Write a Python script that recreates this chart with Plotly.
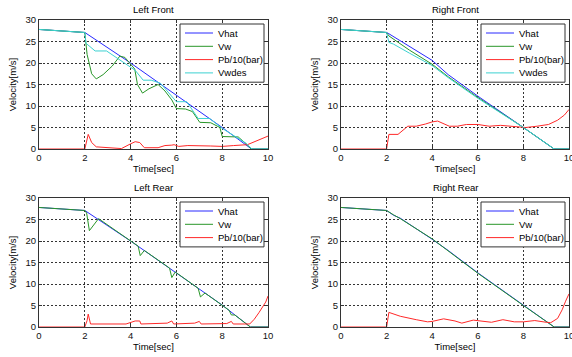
import plotly.graph_objects as go

# ---------------- data ----------------
titles = ["Left Front", "Right Front", "Left Rear", "Right Rear"]
x_ticks = [0, 2, 4, 6, 8, 10]
y_ticks = [0, 5, 10, 15, 20, 25, 30]

# Left Front
lf_vhat_t = [0, 2, 4, 6, 8, 9.28, 10]
lf_vhat_v = [27.8, 27.1, 20.0, 12.6, 5.0, 0, 0]
lf_vw_t = [0, 2, 2.1, 2.3, 2.5, 2.8, 3.2, 3.53, 3.75, 4.0, 4.18, 4.3, 4.52, 4.8, 5.2, 5.5, 5.8, 6.0, 6.4, 6.7, 7.02, 7.5, 7.9, 8.0, 8.5, 8.7, 9.13, 9.27, 10]
lf_vw_v = [27.8, 27.1, 22.0, 17.5, 16.3, 17.3, 19.3, 21.6, 21.3, 19.7, 18.6, 15.0, 13.0, 14.0, 15.0, 13.5, 11.4, 9.4, 9.3, 8.7, 6.2, 6.1, 5.0, 2.9, 2.9, 2.8, 0.8, 0, 0]
lf_pb_t = [0, 2.0, 2.15, 2.3, 2.5, 3.0, 3.3, 3.6, 4.0, 4.2, 4.4, 4.6, 5.2, 5.5, 5.8, 5.9, 6.1, 6.5, 7.5, 8.0, 8.5, 9.1, 10]
lf_pb_v = [0, 0, 3.4, 1.5, 0.5, 0.3, 0.05, 0.1, 1.2, 1.7, 1.5, 0.3, 0.3, 0.8, 0.9, 1.0, 0.6, 0.8, 0.7, 0.6, 0.8, 1.0, 3.0]
lf_vwdes_t = [0, 2, 2.05, 2.45, 2.95, 4.0, 4.2, 4.55, 4.9, 5.3, 5.93, 6.0, 6.45, 6.95, 7.45, 8.0, 9.05, 9.3, 10]
lf_vwdes_v = [27.8, 27.1, 24.6, 22.8, 22.8, 19.1, 18.3, 16.0, 16.0, 15.3, 11.4, 11.0, 11.0, 7.1, 7.1, 4.8, 1.3, 0, 0]

# Right Front
rf_vhat_t = [0, 2, 2.1, 4, 4.7, 6, 8, 9.35, 10]
rf_vhat_v = [27.8, 27.1, 26.8, 20.6, 17.3, 12.3, 5.0, 0, 0]
rf_vw_t = [0, 2, 2.1, 3, 4, 4.7, 6, 7, 8, 9.35, 10]
rf_vw_v = [27.8, 27.1, 26.3, 23.0, 19.7, 16.8, 12.0, 8.5, 5.0, 0, 0]
rf_pb_t = [0, 2.0, 2.1, 2.5, 2.93, 3.3, 3.7, 4.0, 4.24, 4.75, 5.1, 5.5, 6.0, 6.5, 7.0, 7.5, 8.1, 8.6, 9.1, 9.5, 9.8, 10]
rf_pb_v = [0, 0, 3.4, 3.4, 5.3, 5.3, 5.8, 6.3, 6.5, 5.3, 5.3, 5.7, 5.7, 5.3, 5.5, 5.2, 5.0, 5.3, 5.7, 6.7, 7.9, 9.2]
rf_vwdes_t = [0, 2, 2.1, 2.3, 3, 4, 4.7, 6, 7, 8, 9.35, 10]
rf_vwdes_v = [27.8, 27.1, 24.8, 24.4, 22.3, 19.4, 16.6, 11.8, 8.4, 5.0, 0, 0]

# Left Rear
lr_vhat_t = [0, 2, 4, 6, 8, 9.23, 10]
lr_vhat_v = [27.8, 27.1, 20.0, 12.6, 5.1, 0, 0]
lr_vw_t = [0, 2, 2.08, 2.2, 2.6, 4.33, 4.42, 4.6, 5.7, 5.8, 5.95, 6.95, 7.05, 7.25, 8.3, 8.4, 8.55, 9.23, 10]
lr_vw_v = [27.8, 27.1, 26.5, 22.4, 25.2, 18.8, 16.6, 17.8, 13.7, 11.5, 12.8, 9.0, 7.0, 7.9, 3.9, 2.8, 2.8, 0, 0]
lr_pb_t = [0, 2.0, 2.1, 2.15, 2.25, 3.8, 4.2, 4.4, 4.45, 5.6, 5.8, 5.88, 6.8, 7.0, 7.08, 8.2, 8.4, 8.48, 9.2, 9.4, 9.6, 9.8, 9.9, 10]
lr_pb_v = [0, 0, 1.5, 3.0, 0.7, 0.7, 1.4, 1.4, 0.7, 0.9, 1.4, 0.7, 0.9, 1.3, 0.7, 0.8, 1.3, 0.7, 0.7, 1.8, 3.3, 5.0, 5.8, 7.2]

# Right Rear
rr_vhat_t = [0, 2, 2.3, 2.6, 4, 4.7, 6, 8, 9.35, 10]
rr_vhat_v = [27.8, 27.1, 26.0, 25.3, 20.4, 17.8, 12.6, 5.0, 0, 0]
rr_vw_t = [0, 2, 2.3, 2.6, 4, 4.7, 6, 8, 9.35, 10]
rr_vw_v = [27.8, 27.1, 26.1, 25.2, 20.5, 17.7, 12.5, 5.0, 0, 0]
rr_pb_t = [0, 2.0, 2.1, 2.6, 3.3, 3.8, 4.0, 4.5, 5.0, 5.3, 5.8, 6.3, 6.6, 7.1, 7.6, 8.0, 8.5, 9.0, 9.2, 9.5, 9.7, 9.85, 10]
rr_pb_v = [0, 0, 3.4, 2.5, 1.7, 1.2, 1.3, 1.9, 1.4, 0.9, 1.6, 1.2, 1.1, 1.7, 1.2, 1.2, 1.5, 1.1, 1.0, 2.0, 4.0, 6.0, 7.7]

# ---------------- styling ----------------
FONT = "Liberation Sans, Arial, sans-serif"
C_VHAT = "rgb(40,40,255)"
C_VW = "rgb(40,150,40)"
C_PB = "rgb(255,40,40)"
C_VWDES = "rgb(60,210,210)"
AXC = "#333333"
FS = 9.5

W, H = 572, 357
# plot areas in pixels (left, right, top, bottom)
areas = [(39, 268, 20, 149), (341, 569, 20, 149), (39, 268, 198, 327), (341, 569, 198, 327)]

panels = [
    [("Vhat", lf_vhat_t, lf_vhat_v, C_VHAT), ("Vw", lf_vw_t, lf_vw_v, C_VW),
     ("Pb/10(bar)", lf_pb_t, lf_pb_v, C_PB), ("Vwdes", lf_vwdes_t, lf_vwdes_v, C_VWDES)],
    [("Vhat", rf_vhat_t, rf_vhat_v, C_VHAT), ("Vw", rf_vw_t, rf_vw_v, C_VW),
     ("Pb/10(bar)", rf_pb_t, rf_pb_v, C_PB), ("Vwdes", rf_vwdes_t, rf_vwdes_v, C_VWDES)],
    [("Vhat", lr_vhat_t, lr_vhat_v, C_VHAT), ("Vw", lr_vw_t, lr_vw_v, C_VW),
     ("Pb/10(bar)", lr_pb_t, lr_pb_v, C_PB)],
    [("Vhat", rr_vhat_t, rr_vhat_v, C_VHAT), ("Vw", rr_vw_t, rr_vw_v, C_VW),
     ("Pb/10(bar)", rr_pb_t, rr_pb_v, C_PB)],
]


def px(x):
    return x / W


def py(y):
    return 1 - y / H


fig = go.Figure()
layout = dict(
    width=W, height=H, margin=dict(l=0, r=0, t=0, b=0),
    paper_bgcolor="white", plot_bgcolor="white",
    font=dict(family=FONT, size=FS, color="black"),
    showlegend=False,
    annotations=[], shapes=[],
)

for i, (area, series) in enumerate(zip(areas, panels)):
    n = i + 1
    xa = "x" if n == 1 else f"x{n}"
    ya = "y" if n == 1 else f"y{n}"
    for name, t, v, col in series:
        fig.add_trace(go.Scatter(x=t, y=v, mode="lines", name=name,
                                 line=dict(color=col, width=1),
                                 xaxis=xa, yaxis=ya))
    l, r, tp, bt = area
    axcommon = dict(showline=True, mirror="ticks", linecolor=AXC, linewidth=1,
                    ticks="inside", ticklen=3, tickcolor=AXC,
                    showgrid=True, gridcolor="#333333", griddash="2px,2px", gridwidth=1,
                    zeroline=False, tickfont=dict(family=FONT, size=FS, color="#111111"),
                    automargin=False, ticklabeloverflow="allow")
    layout["xaxis" if n == 1 else f"xaxis{n}"] = dict(
        axcommon, domain=[px(l), px(r)], anchor=ya, range=[0, 10], tickvals=x_ticks,
        title=dict(text="Time[sec]", standoff=2, font=dict(family=FONT, size=FS)))
    layout["yaxis" if n == 1 else f"yaxis{n}"] = dict(
        axcommon, domain=[py(bt), py(tp)], anchor=xa, range=[0, 30], tickvals=y_ticks,
        title=dict(text="Velocity[m/s]", standoff=7, font=dict(family=FONT, size=FS)))
    layout["annotations"].append(dict(
        text=titles[i], x=px((l + r) / 2), y=py(tp - 11), xref="paper", yref="paper",
        xanchor="center", yanchor="middle", showarrow=False,
        font=dict(family=FONT, size=FS, color="black")))

    # legend box drawn in the MATLAB style
    nitems = len(series)
    bx0, bx1 = r - 88, r - 4
    by0 = tp + 4
    by1 = by0 + 5 + 13.3 * nitems
    layout["shapes"].append(dict(type="rect", xref="paper", yref="paper",
                                 x0=px(bx0), x1=px(bx1), y0=py(by1), y1=py(by0),
                                 line=dict(color=AXC, width=1), fillcolor="white", layer="above"))
    for k, (name, t, v, col) in enumerate(series):
        yc = by0 + 9 + 13.3 * k
        layout["shapes"].append(dict(type="line", xref="paper", yref="paper",
                                     x0=px(bx0 + 5), x1=px(bx0 + 33), y0=py(yc), y1=py(yc),
                                     line=dict(color=col, width=1), layer="above"))
        layout["annotations"].append(dict(
            text=name, x=px(bx0 + 36), y=py(yc), xref="paper", yref="paper",
            xanchor="left", yanchor="middle", showarrow=False,
            font=dict(family=FONT, size=FS, color="black")))

fig.update_layout(**layout)
fig.write_html("out.html", config={"displayModeBar": False},
               post_script="document.body.style.margin='0';document.body.style.padding='0';")
